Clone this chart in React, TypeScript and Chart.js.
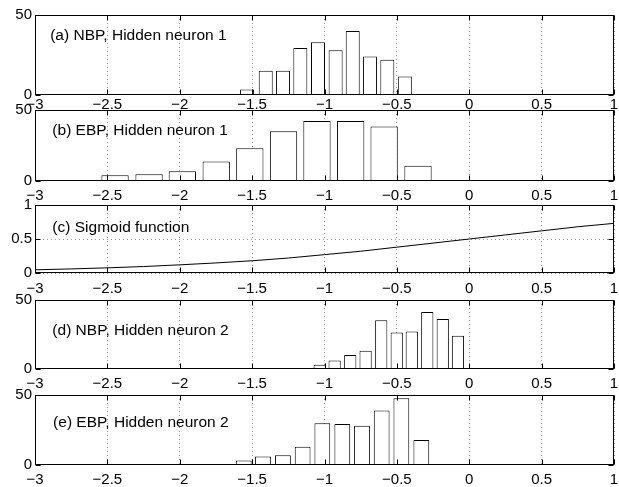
import React, { useEffect, useRef } from 'react';
import { Chart, registerables } from 'chart.js';
Chart.register(...registerables);

// ---- data ----
const xMin = -3;
const xMax = 1;
const xStep = 0.5;

const nbp1Centers = [-1.535, -1.406, -1.287, -1.167, -1.045, -0.923, -0.805, -0.686, -0.566, -0.445];
const nbp1Counts = [3.5, 15.1, 15.1, 29.3, 33, 27.9, 40, 24, 22.1, 11.6];

const ebp1Centers = [-2.447, -2.212, -1.982, -1.748, -1.516, -1.283, -1.052, -0.819, -0.588, -0.354];
const ebp1Counts = [4.0, 4.7, 6.8, 13.8, 23, 35, 42.3, 42.3, 38.3, 10.8];

const sigmoidX = [-3, -2.75, -2.5, -2.25, -2, -1.75, -1.5, -1.25, -1, -0.75, -0.5, -0.25, 0, 0.25, 0.5, 0.75, 1];
const sigmoidY = [0.047, 0.06, 0.076, 0.095, 0.12, 0.148, 0.18, 0.22, 0.27, 0.32, 0.38, 0.44, 0.5, 0.56, 0.62, 0.68, 0.73];

const nbp2Centers = [-1.033, -0.930, -0.822, -0.716, -0.608, -0.501, -0.397, -0.290, -0.183, -0.078];
const nbp2Counts = [3.1, 6.1, 10.1, 13.2, 35.4, 26.4, 27.1, 41.3, 36.3, 24.1];

const ebp2Centers = [-1.558, -1.425, -1.287, -1.151, -1.015, -0.877, -0.741, -0.605, -0.469, -0.331];
const ebp2Counts = [3.2, 6.0, 6.9, 13, 29.9, 29.2, 28, 38.9, 47.7, 17.8];

const panelTitles = [
  '(a) NBP, Hidden neuron 1',
  '(b) EBP, Hidden neuron 1',
  '(c) Sigmoid function',
  '(d) NBP, Hidden neuron 2',
  '(e) EBP, Hidden neuron 2',
];
const titleX = [-2.895, -2.88, -2.88, -2.88, -2.875];
const titleY = [36.9, 35.2, 0.66, 27.5, 30];

const histYMax = 50;
const histYStep = 50;
const sigYMax = 1;
const sigYStep = 0.5;

// ---- layout (pixels) ----
const FONT = '"Liberation Sans", Arial, Helvetica, sans-serif';
const CANVAS_W = 619;
const AREA_RIGHT = 614;
const AREA_LEFT = 35;
const TOP_PAD = 15;
const BELOW = 22;
const areaTops = [15, 110, 205, 300, 395];
const areaBottoms = [95, 181, 273, 369, 465];
const labelPads = [1, 6, 7, 6, 6];

const fmt = (v: number | string) => String(v).replace('-', '\u2212');

const framePlugin = {
  id: 'frame',
  afterDatasetsDraw(chart: any, _args: any, opts: any) {
    const { ctx, chartArea: a, scales } = chart;
    ctx.save();
    ctx.strokeStyle = '#000';
    ctx.lineWidth = 1;
    const l = Math.round(a.left) + 0.5;
    const r = Math.round(a.right) - 0.5;
    const t = Math.round(a.top) + 0.5;
    const b = Math.round(a.bottom) - 0.5;
    ctx.strokeRect(l, t, r - l, b - t);
    const tl = 5;
    ctx.beginPath();
    for (const tk of scales.x.ticks) {
      const px = Math.round(scales.x.getPixelForValue(tk.value)) + 0.5;
      ctx.moveTo(px, b); ctx.lineTo(px, b - tl);
      ctx.moveTo(px, t); ctx.lineTo(px, t + tl);
    }
    for (const tk of scales.y.ticks) {
      const py = Math.round(scales.y.getPixelForValue(tk.value)) + 0.5;
      ctx.moveTo(l, py); ctx.lineTo(l + tl, py);
      ctx.moveTo(r, py); ctx.lineTo(r - tl, py);
    }
    ctx.stroke();
    if (opts && opts.text) {
      ctx.fillStyle = '#000';
      ctx.font = `15.5px ${FONT}`;
      ctx.textAlign = 'left';
      ctx.textBaseline = 'middle';
      ctx.fillText(opts.text, scales.x.getPixelForValue(opts.x), scales.y.getPixelForValue(opts.y));
    }
    ctx.restore();
  },
};

type PanelProps = {
  index: number;
  kind: 'bar' | 'line';
  xs: number[];
  ys: number[];
  yMax: number;
  yStep: number;
};

function Panel({ index, kind, xs, ys, yMax, yStep }: PanelProps) {
  const ref = useRef<HTMLCanvasElement | null>(null);
  const areaH = areaBottoms[index] - areaTops[index];
  const canvasH = TOP_PAD + areaH + BELOW;
  const canvasTop = areaTops[index] - TOP_PAD;
  useEffect(() => {
    if (!ref.current) return;
    const data = xs.map((x, i) => ({ x, y: ys[i] }));
    const dataset: any =
      kind === 'bar'
        ? {
            type: 'bar',
            data,
            backgroundColor: '#fff',
            borderColor: '#000',
            borderWidth: 1,
            borderSkipped: false,
            barPercentage: 0.82,
            categoryPercentage: 1,
          }
        : {
            type: 'line',
            data,
            borderColor: '#000',
            borderWidth: 1,
            pointRadius: 0,
            fill: false,
            cubicInterpolationMode: 'monotone',
          };
    const chart = new Chart(ref.current, {
      type: kind,
      data: { datasets: [dataset] },
      options: {
        animation: false,
        responsive: false,
        devicePixelRatio: 1,
        layout: { padding: { top: TOP_PAD, right: CANVAS_W - AREA_RIGHT, left: 0, bottom: 0 } },
        plugins: {
          legend: { display: false },
          tooltip: { enabled: false },
          frame: { text: panelTitles[index], x: titleX[index], y: titleY[index] },
        } as any,
        scales: {
          x: {
            type: 'linear',
            min: xMin,
            max: xMax,
            offset: false,
            afterFit: (s: any) => {
              s.height = BELOW;
              s.paddingLeft = 0;
              s.paddingRight = 0;
            },
            ticks: {
              stepSize: xStep,
              color: '#000',
              font: { family: FONT, size: 15 },
              padding: labelPads[index],
              maxRotation: 0,
              autoSkip: false,
              callback: (v: any) => fmt(v),
            },
            grid: { display: true, offset: false, color: '#9a9a9a', lineWidth: 1, drawTicks: false },
            border: { display: false, dash: [1, 3] },
          },
          y: {
            type: 'linear',
            min: 0,
            max: yMax,
            afterFit: (s: any) => {
              s.width = AREA_LEFT;
              s.paddingTop = 0;
              s.paddingBottom = 0;
            },
            ticks: {
              stepSize: yStep,
              color: '#000',
              font: { family: FONT, size: 15 },
              padding: 3,
              callback: (v: any) => fmt(v),
            },
            grid: { display: kind === 'line', offset: false, color: '#9a9a9a', lineWidth: 1, drawTicks: false },
            border: { display: false, dash: [1, 3] },
          },
        },
      } as any,
      plugins: [framePlugin as any],
    });
    return () => chart.destroy();
  }, []);
  return (
    <canvas
      ref={ref}
      width={CANVAS_W}
      height={canvasH}
      style={{ position: 'absolute', left: 0, top: canvasTop, width: CANVAS_W, height: canvasH }}
    />
  );
}

export default function App() {
  return (
    <div style={{ position: 'absolute', left: 0, top: 0, width: 619, height: 487, overflow: 'hidden', background: '#fff' }}>
      <Panel index={0} kind="bar" xs={nbp1Centers} ys={nbp1Counts} yMax={histYMax} yStep={histYStep} />
      <Panel index={1} kind="bar" xs={ebp1Centers} ys={ebp1Counts} yMax={histYMax} yStep={histYStep} />
      <Panel index={2} kind="line" xs={sigmoidX} ys={sigmoidY} yMax={sigYMax} yStep={sigYStep} />
      <Panel index={3} kind="bar" xs={nbp2Centers} ys={nbp2Counts} yMax={histYMax} yStep={histYStep} />
      <Panel index={4} kind="bar" xs={ebp2Centers} ys={ebp2Counts} yMax={histYMax} yStep={histYStep} />
    </div>
  );
}
